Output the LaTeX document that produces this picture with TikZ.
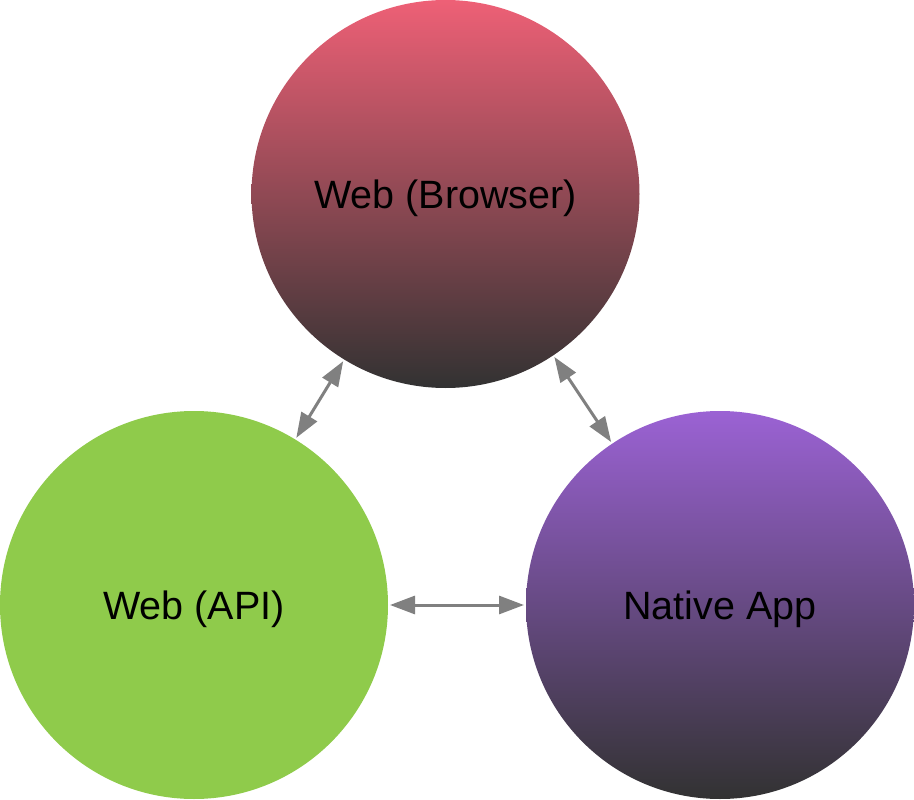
\documentclass[tikz,border=0pt]{standalone}
\usepackage{fontspec}
\setmainfont{Liberation Sans}
\usetikzlibrary{arrows.meta}
\definecolor{browsertop}{HTML}{EE6076}
\definecolor{apptop}{HTML}{9B62D4}
\definecolor{darkbase}{HTML}{323232}
\definecolor{apigreen}{HTML}{8FCB4B}
\definecolor{linkgray}{HTML}{808080}
\begin{document}
\begin{tikzpicture}[x=1pt,y=-1pt,
  platform/.style={circle, minimum size=388pt, inner sep=0pt, outer sep=0pt},
  caption/.style={font=\fontsize{39.5}{44}\selectfont, text=black, inner sep=0pt, yshift=-4pt},
  link/.style={draw=linkgray, line width=3pt,
    {Triangle[length=25pt,width=18pt]}-{Triangle[length=25pt,width=18pt]},
    shorten <=2pt, shorten >=2pt}]
  \useasboundingbox (0,0) rectangle (914,800);
  \node[platform, top color=browsertop, bottom color=darkbase,
        label={[caption]center:Web (Browser)}] (browser) at (445.5,194) {};
  \node[platform, fill=apigreen,
        label={[caption]center:Web (API)}] (api) at (194,605) {};
  \node[platform, top color=apptop, bottom color=darkbase,
        label={[caption]center:Native App}] (app) at (720,605) {};
  \draw[link] (browser) -- (api);
  \draw[link] (browser) -- (app);
  \draw[link] (api) -- (app);
\end{tikzpicture}
\end{document}
